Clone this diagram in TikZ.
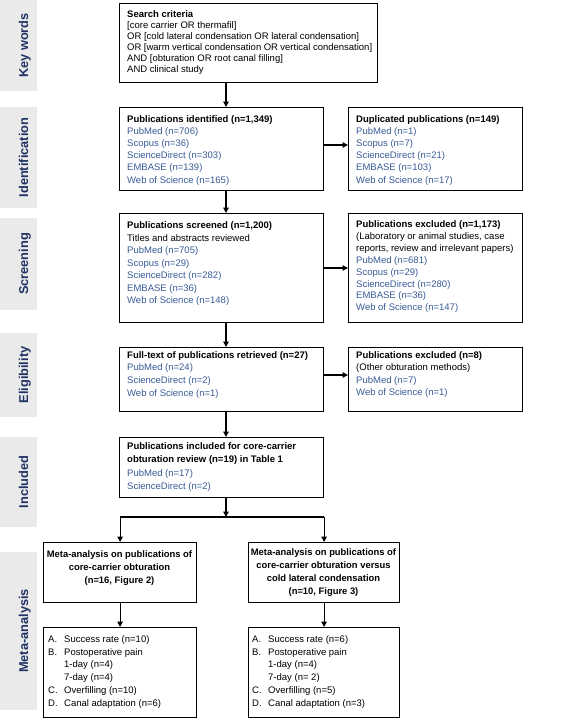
\documentclass[tikz,border=0pt]{standalone}
\usepackage{fontspec}
\setmainfont{Liberation Sans}
\usetikzlibrary{arrows.meta}
\definecolor{navy}{RGB}{31,50,99}
\definecolor{lblue}{RGB}{55,90,150}
\definecolor{panelgray}{RGB}{234,234,234}
\newcommand{\bl}[1]{\textcolor{lblue}{#1}}
\newcommand{\itm}[2]{\makebox[16pt][l]{#1}#2}
\begin{document}
\begin{tikzpicture}[x=1pt,y=-1pt,
  frame/.style={draw=black, line width=1.2pt, inner sep=0pt, anchor=north west},
  txt/.style={anchor=base west, inner sep=0pt, align=left, font=\fontsize{9.5}{#1}\selectfont},
  ctxt/.style={anchor=base, inner sep=0pt, font=\fontsize{9.4}{#1}\selectfont\bfseries},
  panel/.style={fill=panelgray, draw=none},
  lab/.style={anchor=base, rotate=90, inner sep=0pt, text=navy, font=\fontsize{12.8}{14}\selectfont\bfseries},
  arr/.style={draw=black, line width=1.2pt, -{Triangle[length=5.5pt,width=5.5pt]}},
  ln/.style={draw=black, line width=1.2pt}]
\useasboundingbox (0,0) rectangle (568,718);
% side panels
\fill[panel] (0,0) rectangle (37,91);
\fill[panel] (0,107) rectangle (37,208);
\fill[panel] (0,218) rectangle (37,310);
\fill[panel] (0,333) rectangle (37,417);
\fill[panel] (0,437) rectangle (37,527);
\fill[panel] (0,552) rectangle (37,710);
\node[lab] (lkw) at (28,45.5) {Key words};
\node[lab] (lid) at (28,157.5) {Identification};
\node[lab] (lsc) at (28,264) {Screening};
\node[lab] (lel) at (28,375) {Eligibility};
\node[lab] (lin) at (28,482) {Included};
\node[lab] (lma) at (28,631) {Meta-analysis};
% frames
\node[frame, minimum width=258pt, minimum height=79pt] (kw) at (119,3) {};
\node[frame, minimum width=204pt, minimum height=83pt] (ident) at (119,107) {};
\node[frame, minimum width=174pt, minimum height=83pt] (dup) at (348,107) {};
\node[frame, minimum width=204pt, minimum height=109pt] (screen) at (119,213) {};
\node[frame, minimum width=174pt, minimum height=109pt] (excl) at (348,213) {};
\node[frame, minimum width=204pt, minimum height=64pt] (full) at (119,347) {};
\node[frame, minimum width=174pt, minimum height=64pt] (excl8) at (348,347) {};
\node[frame, minimum width=204pt, minimum height=60pt] (incl) at (119,437) {};
\node[frame, minimum width=153pt, minimum height=60pt] (metaL) at (43,542) {};
\node[frame, minimum width=151pt, minimum height=60pt] (metaR) at (248,542) {};
\node[frame, minimum width=153pt, minimum height=90pt] (resL) at (43,627) {};
\node[frame, minimum width=151pt, minimum height=90pt] (resR) at (248,627) {};
% texts
\node[txt=11.0] (kwT) at (127,17) {\parbox[t]{245pt}{\textbf{Search criteria}\\
{[}core carrier OR thermafil{]}\\
OR {[}cold lateral condensation OR lateral condensation{]}\\
OR {[}warm vertical condensation OR vertical condensation{]}\\
AND {[}obturation OR root canal filling{]}\\
AND clinical study}};
\node[txt=12.2] (identT) at (127,122) {\parbox[t]{192pt}{\textbf{Publications identified (n=1,349)}\\
\bl{PubMed (n=706)}\\ \bl{Scopus (n=36)}\\ \bl{ScienceDirect (n=303)}\\ \bl{EMBASE (n=139)}\\ \bl{Web of Science (n=165)}}};
\node[txt=12.2] (dupT) at (356,122) {\parbox[t]{164pt}{\textbf{Duplicated publications (n=149)}\\
\bl{PubMed (n=1)}\\ \bl{Scopus (n=7)}\\ \bl{ScienceDirect (n=21)}\\ \bl{EMBASE (n=103)}\\ \bl{Web of Science (n=17)}}};
\node[txt=12.5] (screenT) at (127,228.5) {\parbox[t]{192pt}{\textbf{Publications screened (n=1,200)}\\
Titles and abstracts reviewed\\
\bl{PubMed (n=705)}\\ \bl{Scopus (n=29)}\\ \bl{ScienceDirect (n=282)}\\ \bl{EMBASE (n=36)}\\ \bl{Web of Science (n=148)}}};
\node[txt=11.9] (exclT) at (356,227.5) {\parbox[t]{164pt}{\textbf{Publications excluded (n=1,173)}\\
(Laboratory or animal studies, case\\
reports, review and irrelevant papers)\\
\bl{PubMed (n=681)}\\ \bl{Scopus (n=29)}\\ \bl{ScienceDirect (n=280)}\\ \bl{EMBASE (n=36)}\\ \bl{Web of Science (n=147)}}};
\node[txt=12.8] (fullT) at (127,358) {\parbox[t]{192pt}{\textbf{Full-text of publications retrieved (n=27)}\\
\bl{PubMed (n=24)}\\ \bl{ScienceDirect (n=2)}\\ \bl{Web of Science (n=1)}}};
\node[txt=12.6] (excl8T) at (356,358) {\parbox[t]{164pt}{\textbf{Publications excluded (n=8)}\\
(Other obturation methods)\\
\bl{PubMed (n=7)}\\ \bl{Web of Science (n=1)}}};
\node[txt=13.3] (inclT) at (127,449.5) {\parbox[t]{192pt}{\textbf{Publications included for core-carrier}\\
\textbf{obturation review (n=19) in Table 1}\\
\bl{PubMed (n=17)}\\ \bl{ScienceDirect (n=2)}}};
\node[ctxt=13.3] (metaLT) at (119.5,557) {\parbox[t]{150pt}{\centering Meta-analysis on publications of\\
core-carrier obturation\\ (n=16, Figure 2)}};
\node[ctxt=13.3] (metaRT) at (323.5,555) {\parbox[t]{150pt}{\centering Meta-analysis on publications of\\
core-carrier obturation versus\\ cold lateral condensation\\ (n=10, Figure 3)}};
\node[txt=12.7] (resLT) at (48,642.5) {\parbox[t]{145pt}{\itm{A.}{Success rate (n=10)}\\
\itm{B.}{Postoperative pain}\\ \itm{}{1-day (n=4)}\\ \itm{}{7-day (n=4)}\\
\itm{C.}{Overfilling (n=10)}\\ \itm{D.}{Canal adaptation (n=6)}}};
\node[txt=12.7] (resRT) at (252,642.5) {\parbox[t]{145pt}{\itm{A.}{Success rate (n=6)}\\
\itm{B.}{Postoperative pain}\\ \itm{}{1-day (n=4)}\\ \itm{}{7-day (n= 2)}\\
\itm{C.}{Overfilling (n=5)}\\ \itm{D.}{Canal adaptation (n=3)}}};
% connectors
\coordinate (ax) at (226,0);
\coordinate (h1) at (0,145);
\coordinate (h2) at (0,268);
\coordinate (h3) at (0,375);
\coordinate (sp) at (226,517);
\draw[arr] (kw.south -| ax) -- (ident.north -| ax);
\draw[arr] (ident.south -| ax) -- (screen.north -| ax);
\draw[arr] (screen.south -| ax) -- (full.north -| ax);
\draw[arr] (full.south -| ax) -- (incl.north -| ax);
\draw[arr] (ident.east |- h1) -- (dup.west |- h1);
\draw[arr] (screen.east |- h2) -- (excl.west |- h2);
\draw[arr] (full.east |- h3) -- (excl8.west |- h3);
\draw[arr] (incl.south -| ax) -- (sp);
\draw[ln] (metaL.north |- sp) -- (metaR.north |- sp);
\draw[arr] (metaL.north |- sp) -- (metaL.north);
\draw[arr] (metaR.north |- sp) -- (metaR.north);
\draw[arr] (metaL.south) -- (resL.north);
\draw[arr] (metaR.south) -- (resR.north);
\end{tikzpicture}
\end{document}
